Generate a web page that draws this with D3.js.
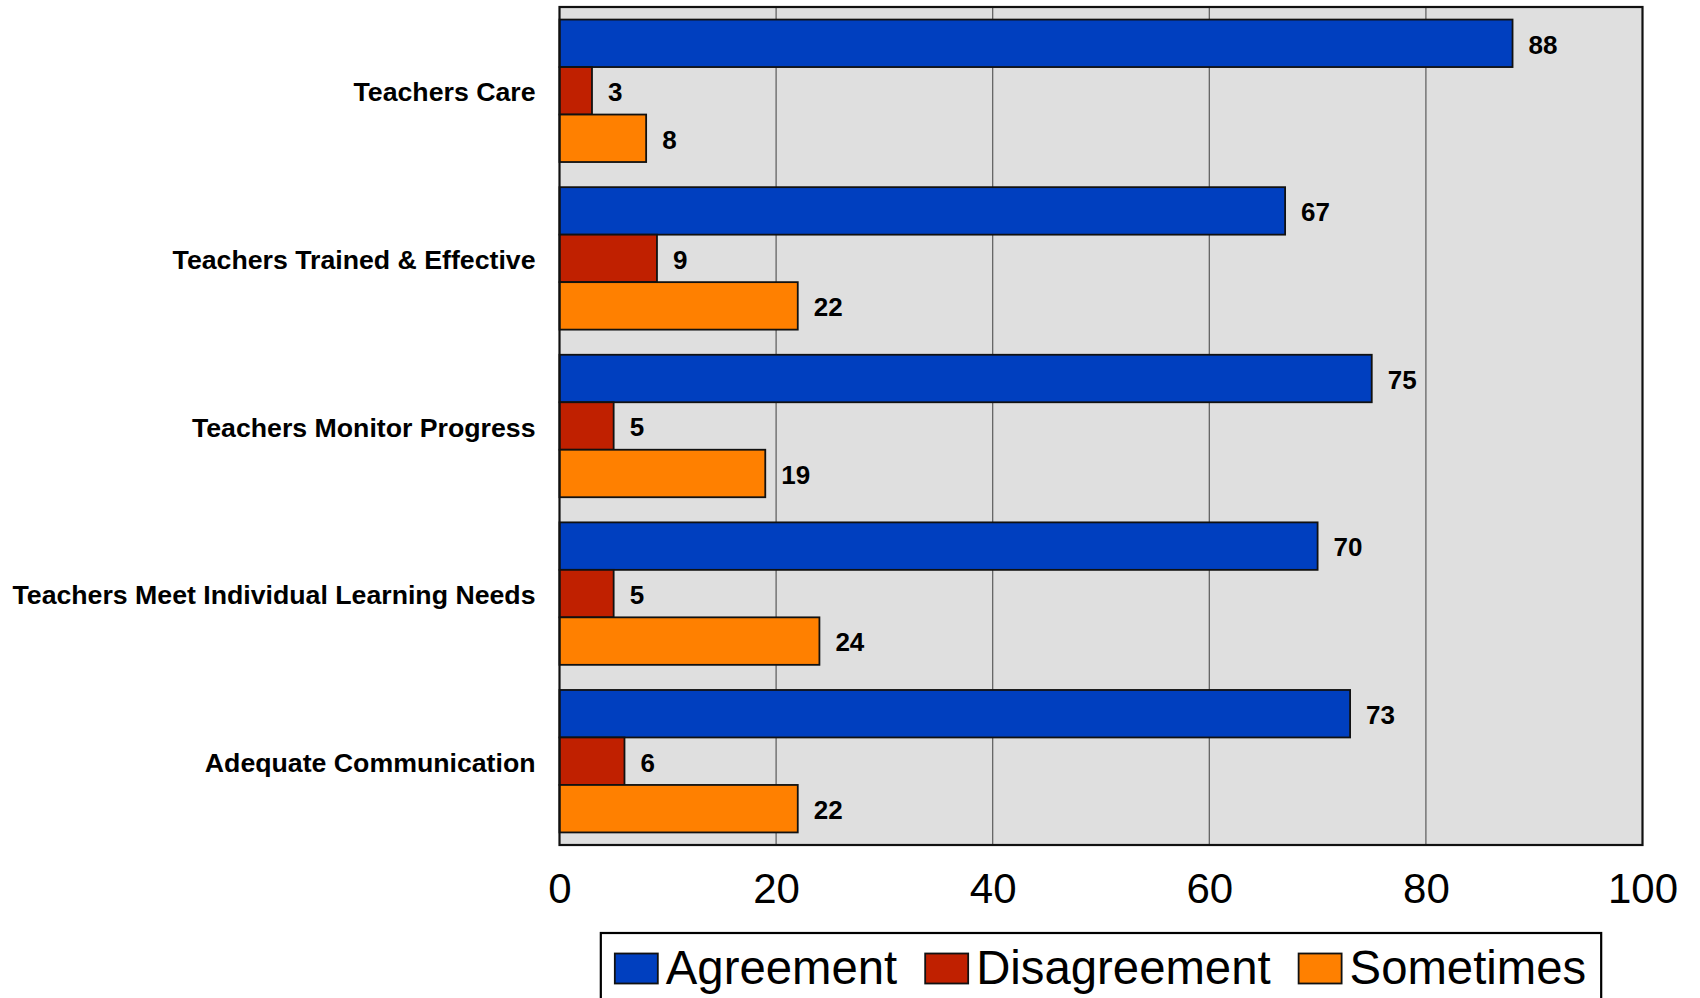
<!DOCTYPE html>
<html>
<head>
<meta charset="utf-8">
<script src="https://cdn.jsdelivr.net/npm/d3@7"></script>
<style>
  html, body { margin: 0; padding: 0; background: #fff; }
  svg { display: block; font-family: "Liberation Sans", Arial, sans-serif; }
</style>
</head>
<body>
<svg id="chart" width="1700" height="998"></svg>
<script>
// Survey categories (top to bottom) and percentage values per response
const categories = [
  "Teachers Care",
  "Teachers Trained & Effective",
  "Teachers Monitor Progress",
  "Teachers Meet Individual Learning Needs",
  "Adequate Communication"
];
const seriesNames = ["Agreement", "Disagreement", "Sometimes"];
const agreement    = [88, 67, 75, 70, 73];
const disagreement = [3, 9, 5, 5, 6];
const sometimes    = [8, 22, 19, 24, 22];
const seriesColors = ["#003fbf", "#c02000", "#ff8000"];
const xTicks = [0, 20, 40, 60, 80, 100];

const seriesValues = [agreement, disagreement, sometimes];

const svg = d3.select("#chart");
const plot = { left: 559.5, right: 1642.5, top: 7, bottom: 845 };

const x = d3.scaleLinear().domain([0, 100]).range([plot.left, plot.right]);
const y0 = d3.scaleBand().domain(categories)
  .range([plot.top, plot.bottom]).paddingInner(0.15).paddingOuter(0.075);
const y1 = d3.scaleBand().domain(seriesNames).range([0, y0.bandwidth()]);

// Plot background
svg.append("rect")
  .attr("x", plot.left).attr("y", plot.top)
  .attr("width", plot.right - plot.left).attr("height", plot.bottom - plot.top)
  .attr("fill", "#dfdfdf");

// Vertical gridlines
svg.append("g").selectAll("line")
  .data(xTicks.filter(t => t > 0 && t < 100))
  .join("line")
  .attr("x1", d => x(d)).attr("x2", d => x(d))
  .attr("y1", plot.top).attr("y2", plot.bottom)
  .attr("stroke", "#5a5a5a").attr("stroke-width", 1.2);

// Bars grouped by category
const groups = svg.append("g").selectAll("g")
  .data(categories)
  .join("g")
  .attr("transform", d => `translate(0,${y0(d)})`);

groups.each(function(cat, ci) {
  const g = d3.select(this);
  seriesNames.forEach((s, si) => {
    const v = seriesValues[si][ci];
    g.append("rect")
      .attr("x", x(0)).attr("y", y1(s))
      .attr("width", x(v) - x(0)).attr("height", y1.bandwidth())
      .attr("fill", seriesColors[si])
      .attr("stroke", "#111").attr("stroke-width", 1.8);
    g.append("text")
      .attr("x", x(v) + 16).attr("y", y1(s) + y1.bandwidth() / 2 + 1)
      .attr("dy", "0.36em")
      .attr("font-size", 26).attr("font-weight", "bold")
      .attr("fill", "#000")
      .text(v);
  });
});

// Plot frame
svg.append("rect")
  .attr("x", plot.left).attr("y", plot.top)
  .attr("width", plot.right - plot.left).attr("height", plot.bottom - plot.top)
  .attr("fill", "none").attr("stroke", "#111").attr("stroke-width", 2.2);

// Category labels
svg.append("g").selectAll("text")
  .data(categories)
  .join("text")
  .attr("x", plot.left - 24)
  .attr("y", d => y0(d) + y0.bandwidth() / 2 + 1)
  .attr("dy", "0.36em")
  .attr("text-anchor", "end")
  .attr("font-size", 26.7).attr("font-weight", "bold")
  .attr("fill", "#000")
  .text(d => d);

// X axis tick labels
const xAxis = d3.axisBottom(x).tickValues(xTicks).tickSize(0).tickPadding(0);
const axisG = svg.append("g")
  .attr("transform", `translate(0,${plot.bottom})`)
  .call(xAxis);
axisG.select(".domain").remove();
axisG.selectAll("text")
  .attr("font-family", "\"Liberation Sans\", Arial, sans-serif")
  .attr("font-size", 42).attr("fill", "#000")
  .attr("dy", null)
  .attr("y", 58);

// Legend
const legend = svg.append("g");
const legendItems = legend.selectAll("g")
  .data(seriesNames)
  .join("g");
legendItems.append("rect")
  .attr("width", 43).attr("height", 30)
  .attr("y", 953.5)
  .attr("fill", (d, i) => seriesColors[i])
  .attr("stroke", "#111").attr("stroke-width", 1.8);
legendItems.append("text")
  .attr("y", 984)
  .attr("font-size", 47.3).attr("fill", "#000")
  .text(d => d);

let cursor = 14;
legendItems.each(function() {
  const item = d3.select(this);
  item.select("rect").attr("x", cursor);
  item.select("text").attr("x", cursor + 51);
  cursor += 51 + item.select("text").node().getComputedTextLength() + 28;
});
const legendWidth = cursor - 28 + 15;
const legendLeft = (plot.left + plot.right) / 2 - legendWidth / 2;
legend.attr("transform", `translate(${legendLeft},0)`);
legend.insert("rect", ":first-child")
  .attr("x", 0).attr("y", 933)
  .attr("width", legendWidth).attr("height", 90)
  .attr("fill", "#fff")
  .attr("stroke", "#000").attr("stroke-width", 2.2);
</script>
</body>
</html>
